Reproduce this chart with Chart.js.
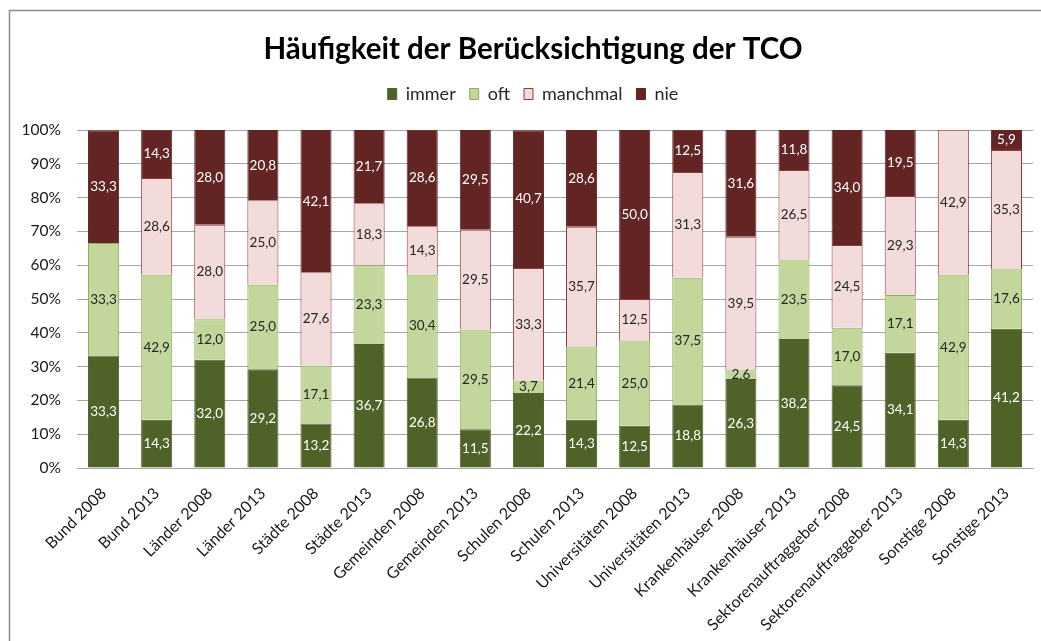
<!DOCTYPE html>
<html>
<head>
<meta charset="utf-8">
<script src="https://cdn.jsdelivr.net/npm/chart.js@4/dist/chart.umd.min.js"></script>
<style>
  html, body { margin: 0; padding: 0; background: #ffffff; }
  #wrap { position: relative; width: 1041px; height: 641px; }
</style>
</head>
<body>
<div id="wrap"><canvas id="c" width="1041" height="641"></canvas></div>
<script>
const categories = [
  'Bund 2008', 'Bund 2013', 'Länder 2008', 'Länder 2013', 'Städte 2008', 'Städte 2013',
  'Gemeinden 2008', 'Gemeinden 2013', 'Schulen 2008', 'Schulen 2013',
  'Universitäten 2008', 'Universitäten 2013', 'Krankenhäuser 2008', 'Krankenhäuser 2013',
  'Sektorenauftraggeber 2008', 'Sektorenauftraggeber 2013', 'Sonstige 2008', 'Sonstige 2013'
];
const immer    = [33.3, 14.3, 32.0, 29.2, 13.2, 36.7, 26.8, 11.5, 22.2, 14.3, 12.5, 18.8, 26.3, 38.2, 24.5, 34.1, 14.3, 41.2];
const oft      = [33.3, 42.9, 12.0, 25.0, 17.1, 23.3, 30.4, 29.5,  3.7, 21.4, 25.0, 37.5,  2.6, 23.5, 17.0, 17.1, 42.9, 17.6];
const manchmal = [ 0.0, 28.6, 28.0, 25.0, 27.6, 18.3, 14.3, 29.5, 33.3, 35.7, 12.5, 31.3, 39.5, 26.5, 24.5, 29.3, 42.9, 35.3];
const nie      = [33.3, 14.3, 28.0, 20.8, 42.1, 21.7, 28.6, 29.5, 40.7, 28.6, 50.0, 12.5, 31.6, 11.8, 34.0, 19.5,  0.0,  5.9];
const seriesNames = ['immer', 'oft', 'manchmal', 'nie'];
const yTickLabels = ['0%', '10%', '20%', '30%', '40%', '50%', '60%', '70%', '80%', '90%', '100%'];
const chartTitle = 'Häufigkeit der Berücksichtigung der TCO';

const FONT = 'Lato, "Open Sans", sans-serif';

const framePlugin = {
  id: 'frame',
  afterDraw(chart) {
    const ctx = chart.ctx;
    ctx.save();
    ctx.strokeStyle = '#8c8c8c';
    ctx.lineWidth = 1.5;
    ctx.beginPath();
    ctx.moveTo(9.5, 641);
    ctx.lineTo(9.5, 10.5);
    ctx.lineTo(1041, 10.5);
    ctx.stroke();
    ctx.restore();
  }
};

// empty layout box between legend and plot area
const spacerPlugin = {
  id: 'spacer',
  beforeInit(chart) {
    if (!Chart.layouts) return;
    Chart.layouts.addBox(chart, {
      position: 'top', weight: 1, fullSize: true, options: {},
      top: 0, left: 0, right: 0, bottom: 0, width: 0, height: 0,
      isHorizontal() { return true; },
      update(maxWidth) { this.width = maxWidth; this.height = 17; },
      draw() {}
    });
  }
};

const labelPlugin = {
  id: 'segLabels',
  afterDatasetsDraw(chart) {
    const ctx = chart.ctx;
    ctx.save();
    ctx.font = '13.5px ' + FONT;
    ctx.textAlign = 'center';
    ctx.textBaseline = 'middle';
    chart.data.datasets.forEach((ds, di) => {
      const meta = chart.getDatasetMeta(di);
      meta.data.forEach((el, i) => {
        const v = ds.data[i];
        if (!v) return;
        ctx.fillStyle = (di === 0 || di === 3) ? '#ffffff' : '#262626';
        const txt = v.toFixed(1).replace('.', ',');
        ctx.fillText(txt, el.x, (el.y + el.base) / 2);
      });
    });
    ctx.restore();
  }
};

const ds = (label, data, bg, border) => ({
  label, data, backgroundColor: bg, borderColor: border, borderWidth: 1,
  categoryPercentage: 1.0, barPercentage: 0.585
});

new Chart(document.getElementById('c'), {
  type: 'bar',
  data: {
    labels: categories,
    datasets: [
      ds(seriesNames[0], immer, '#4F6228', '#4F6228'),
      ds(seriesNames[1], oft, '#C3D69B', '#8FAE55'),
      ds(seriesNames[2], manchmal, '#F2DCDB', '#953735'),
      ds(seriesNames[3], nie, '#632523', '#632523')
    ]
  },
  options: {
    responsive: false,
    animation: false,
    layout: { padding: { left: 0, right: -25, top: 0, bottom: 0 } },
    plugins: {
      title: {
        display: true,
        text: chartTitle,
        color: '#000000',
        font: { family: FONT, size: 29.5, weight: 'bold' },
        padding: { top: 10, bottom: 4 }
      },
      legend: {
        display: true,
        position: 'top',
        labels: {
          color: '#262626',
          font: { family: FONT, size: 18 },
          boxWidth: 9, boxHeight: 11,
          padding: 14
        }
      },
      tooltip: { enabled: false }
    },
    scales: {
      x: {
        stacked: true,
        grid: { display: false, drawTicks: true, tickLength: 8 },
        border: { display: true, color: '#a6a6a6' },
        ticks: {
          color: '#1a1a1a', font: { family: FONT, size: 16 },
          autoSkip: false, minRotation: 45, maxRotation: 45, padding: 8
        },
        afterFit(scale) { scale.height = 173; scale.paddingRight = 8; }
      },
      y: {
        stacked: true,
        min: 0, max: 100,
        grid: { color: '#a6a6a6', drawTicks: false },
        border: { display: false },
        ticks: {
          stepSize: 10, color: '#1a1a1a', padding: 16,
          font: { family: FONT, size: 15.5 },
          callback: (v) => yTickLabels[Math.round(v / 10)]
        },
        afterFit(scale) { scale.width = 77; scale.paddingTop = 130; }
      }
    }
  },
  plugins: [framePlugin, spacerPlugin, labelPlugin]
});
</script>
</body>
</html>
